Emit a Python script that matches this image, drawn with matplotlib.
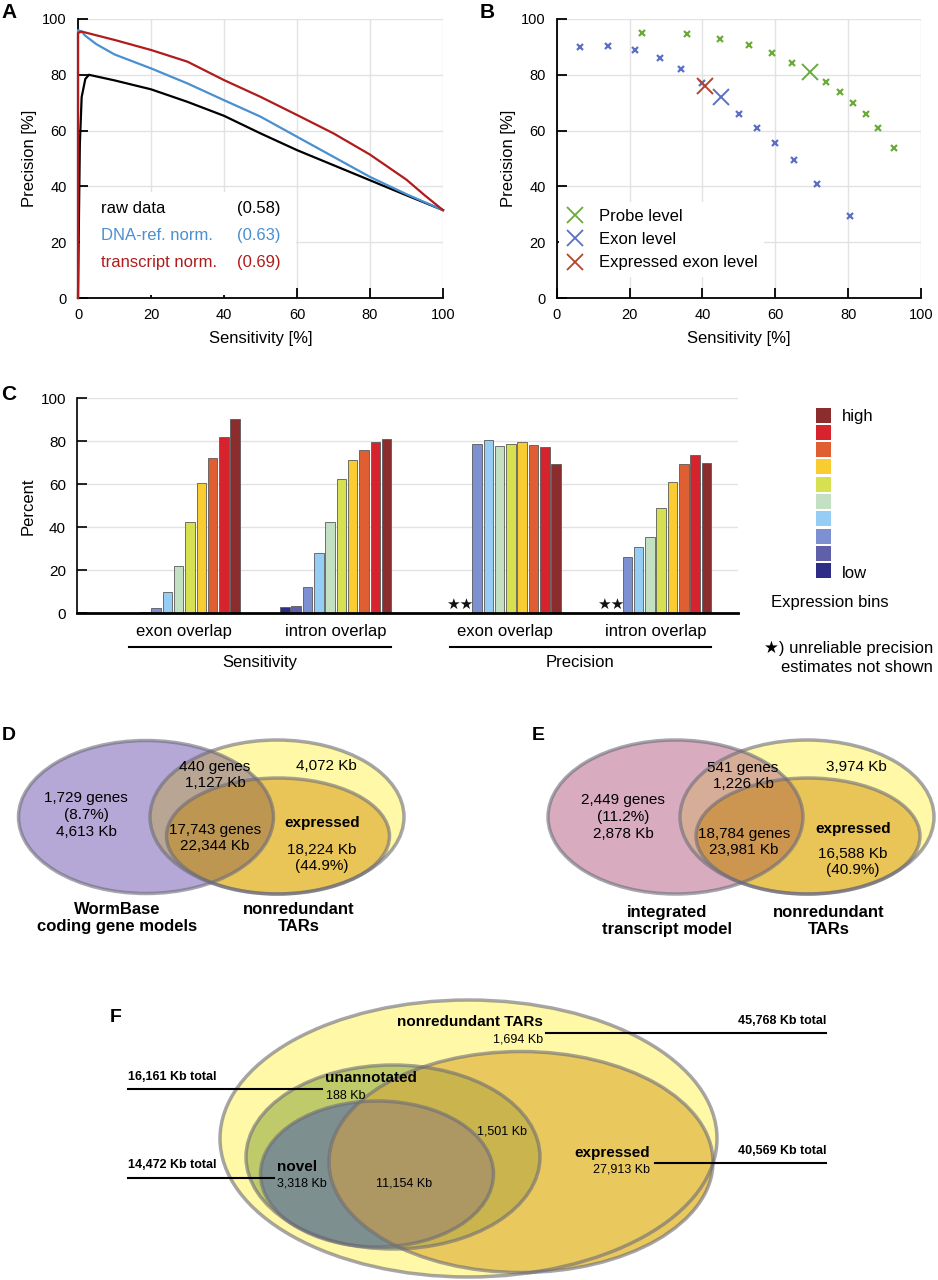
import matplotlib
matplotlib.use('Agg')
import matplotlib.pyplot as plt
from matplotlib.patches import Ellipse, Rectangle
from matplotlib.lines import Line2D
from matplotlib import font_manager

# fonts: Helvetica-like if available
names = {f.name for f in font_manager.fontManager.ttflist}
base = 'Liberation Sans' if 'Liberation Sans' in names else 'DejaVu Sans'
narrow = 'Liberation Sans Narrow' if 'Liberation Sans Narrow' in names else base
nscale = 1.2 if narrow != base else 1.0
plt.rcParams['font.family'] = [base, 'DejaVu Sans']

# ---- panel A: precision vs sensitivity curves
raw_x = [0, 0.5, 1, 2, 3, 10, 20, 30, 40, 50, 60, 70, 80, 90, 100]
raw_y = [0, 55, 72, 78.5, 80, 78, 74.8, 70.3, 65.3, 59, 53, 47.6, 42.2, 36.8, 31.5]
dna_x = [0, 0, 1, 2, 5, 10, 20, 30, 40, 50, 60, 70, 80, 90, 100]
dna_y = [0, 96, 95.5, 94, 91, 87.3, 82.3, 76.9, 70.9, 65, 57.8, 50.6, 43.4, 37.2, 31.5]
trans_x = [0, 0, 1, 10, 20, 30, 40, 50, 60, 70, 80, 90, 95, 100]
trans_y = [0, 95, 95.5, 92.5, 88.9, 84.7, 78.1, 72.1, 65.6, 59, 51.4, 42.4, 36.8, 31.5]
curve_names = ['raw data', 'DNA-ref. norm.', 'transcript norm.']
curve_auc = ['(0.58)', '(0.63)', '(0.69)']

# ---- panel B: scatter
probe_x = [23.3, 35.8, 44.9, 52.8, 59.0, 64.5, 73.9, 77.8, 81.3, 84.9, 88.3, 92.6]
probe_y = [95.1, 94.6, 92.9, 90.8, 87.7, 84.3, 77.4, 73.9, 70.0, 65.9, 60.8, 53.8]
probe_all = (69.6, 81.0)
exon_x = [6.5, 14.0, 21.4, 28.3, 34.1, 39.8, 50.0, 54.9, 59.8, 65.2, 71.4, 80.5]
exon_y = [89.8, 90.2, 88.8, 86.1, 82.1, 77.2, 66.1, 61.1, 55.6, 49.4, 40.8, 29.3]
exon_all = (45.1, 71.9)
expr_exon_all = (40.8, 76.0)

# ---- panel C: bars per expression bin (low -> high)
sens_exon = [0, 0.5, 2.5, 9.8, 22.2, 42.3, 60.5, 72.4, 82.2, 90.5]
sens_intron = [3.1, 3.6, 12.1, 28.2, 42.5, 62.5, 71.3, 76.1, 79.7, 80.9]
prec_exon = [None, None, 78.8, 80.6, 78.0, 78.6, 79.5, 78.1, 77.4, 69.6]
prec_intron = [None, None, 26.4, 30.7, 35.3, 48.8, 61.1, 69.6, 73.6, 69.8]
group_labels = ['exon overlap', 'intron overlap', 'exon overlap', 'intron overlap']
bin_colors = ['#2d2d87', '#5f5faa', '#7d91d2', '#96cdf5', '#c3e0c3',
              '#d7e050', '#f9cd32', '#e05f32', '#d7232d', '#8c2d2d']

# ---- panels D, E, F: venn labels
d_labels = ['1,729 genes\n(8.7%)\n4,613 Kb', '440 genes\n1,127 Kb', '4,072 Kb',
            '17,743 genes\n22,344 Kb', '18,224 Kb\n(44.9%)']
e_labels = ['2,449 genes\n(11.2%)\n2,878 Kb', '541 genes\n1,226 Kb', '3,974 Kb',
            '18,784 genes\n23,981 Kb', '16,588 Kb\n(40.9%)']
f_totals = ['45,768 Kb total', '16,161 Kb total', '14,472 Kb total', '40,569 Kb total']
f_only = ['1,694 Kb', '188 Kb', '3,318 Kb', '27,913 Kb', '11,154 Kb', '1,501 Kb']

W, H = 938, 1280
fig = plt.figure(figsize=(W / 100, H / 100), dpi=100)


def px_axes(l, t, r, b):
    return fig.add_axes([l / W, 1 - b / H, (r - l) / W, (b - t) / H])


def style_pr(ax):
    ax.set_xlim(0, 100)
    ax.set_ylim(0, 100)
    ax.set_xticks(range(0, 101, 20))
    ax.set_yticks(range(0, 101, 20))
    ax.grid(True, color='#e2e2e2', lw=1)
    ax.set_axisbelow(True)
    for s in ('top', 'right'):
        ax.spines[s].set_visible(False)
    for s in ('left', 'bottom'):
        ax.spines[s].set_linewidth(1.3)
    ax.tick_params(direction='in', length=7, width=1.3, labelsize=10.5)
    ax.tick_params(axis='y', pad=8)
    ax.tick_params(axis='x', pad=7)
    ax.set_xlabel('Sensitivity [%]', fontsize=12)
    ax.set_ylabel('Precision [%]', fontsize=12)
    ax.xaxis.set_label_coords(0.5, -0.12)
    ax.yaxis.set_label_coords(-0.113, 0.5)


# ---------------- A
axA = px_axes(78, 19, 443, 298)
style_pr(axA)
axA.add_patch(Rectangle((0.6, 1), 59, 37, facecolor='white', edgecolor='none', zorder=1))
cols_a = ['black', '#4a8fd0', '#b01c1c']
for xs, ys, c in zip([raw_x, dna_x, trans_x], [raw_y, dna_y, trans_y], cols_a):
    axA.plot(xs, ys, color=c, lw=1.6, zorder=3, clip_on=False)
for i, (n, a, c) in enumerate(zip(curve_names, curve_auc, cols_a)):
    y = 32 - i * 9.6
    axA.text(6.4, y, n, color=c, fontsize=12, va='center', zorder=4)
    axA.text(43.6, y, a, color=c, fontsize=12, va='center', zorder=4)

# ---------------- B
axB = px_axes(556.7, 19, 921, 298)
style_pr(axB)
c_probe, c_exon, c_expr = '#6aab3c', '#5b6fc6', '#b5442a'
axB.plot(probe_x, probe_y, 'x', color=c_probe, ms=4, mew=1.6, clip_on=False)
axB.plot(exon_x, exon_y, 'x', color=c_exon, ms=4, mew=1.6, clip_on=False)
axB.plot(*probe_all, 'x', color=c_probe, ms=11, mew=1.4)
axB.plot(*exon_all, 'x', color=c_exon, ms=11, mew=1.4)
axB.plot(*expr_exon_all, 'x', color=c_expr, ms=11, mew=1.4)
handles = [Line2D([], [], ls='none', marker='x', color=c, ms=11, mew=1.3)
           for c in (c_probe, c_exon, c_expr)]
leg = axB.legend(handles, ['Probe level', 'Exon level', 'Expressed exon level'],
                 loc='lower left', bbox_to_anchor=(0.005, 0.075), fontsize=12,
                 frameon=True, framealpha=1, facecolor='white', edgecolor='none',
                 handlelength=1.2, handletextpad=0.8, labelspacing=0.5,
                 borderpad=0.4, borderaxespad=0)

# ---------------- C
axC = px_axes(77, 398.3, 738, 613.3)
starts = [5, 18.4, 33.4, 46.7]
axC.set_xlim(0, 58.5)
axC.set_ylim(0, 100)
axC.set_yticks(range(0, 101, 20))
axC.set_xticks([])
axC.grid(True, axis='y', color='#e2e2e2', lw=1)
axC.set_axisbelow(True)
for s in ('top', 'right'):
    axC.spines[s].set_visible(False)
axC.spines['left'].set_linewidth(1.2)
axC.spines['bottom'].set_linewidth(2)
axC.tick_params(axis='y', direction='in', length=7, width=1.2, labelsize=11, pad=8)
axC.set_ylabel('Percent', fontsize=12)
axC.yaxis.set_label_coords(-0.062, 0.5)
for g, vals, lab in zip(starts, [sens_exon, sens_intron, prec_exon, prec_intron], group_labels):
    missing = []
    for i, v in enumerate(vals):
        if v is None:
            missing.append(g + i)
            continue
        axC.bar(g + i, v, width=0.84, color=bin_colors[i], edgecolor='#5a5a5a', linewidth=0.6)
    if missing:
        axC.text(sum(missing) / len(missing), 0.5, '\u2605' * len(missing), ha='center',
                 va='bottom', fontsize=11, family=['DejaVu Sans'], color='#111111')
    axC.text(g + 4.5, -8.6, lab, ha='center', va='center', fontsize=12, clip_on=False)
for g0, g1, lab in [(starts[0], starts[1], 'Sensitivity'), (starts[2], starts[3], 'Precision')]:
    axC.plot([g0 - 0.4, g1 + 9.4], [-15.5, -15.5], color='black', lw=1.5, clip_on=False)
    axC.text((g0 + g1 + 9) / 2, -23.1, lab, ha='center', va='center', fontsize=12, clip_on=False)

# ---------------- overlay in pixel coordinates
ov = fig.add_axes([0, 0, 1, 1])
ov.set_xlim(0, W)
ov.set_ylim(H, 0)
ov.axis('off')

for lab, x, y in [('A', 9, 12), ('B', 487, 12), ('C', 9, 395), ('D', 9, 735),
                  ('E', 538, 735), ('F', 116, 1017)]:
    ov.text(x, y, lab, ha='center', va='center', fontsize=15 if lab in 'ABC' else 14,
            weight='bold')

# legend for C
for k, c in enumerate(bin_colors[::-1]):
    ov.add_patch(Rectangle((816, 407.5 + k * 17.3), 15, 15, facecolor=c, edgecolor='none'))
ov.text(842, 416, 'high', fontsize=12, va='center')
ov.text(842, 573.5, 'low', fontsize=12, va='center')
ov.text(830, 603, 'Expression bins', fontsize=12, ha='center', va='center')
ov.text(933, 648, '\u2605) unreliable precision', fontsize=12, ha='right', va='center')
ov.text(933, 667, 'estimates not shown', fontsize=12, ha='right', va='center')

edge = (0.42, 0.42, 0.47, 0.6)


def ell(g, **kw):
    return Ellipse((g[0], g[1]), g[2], g[3], **kw)


def fill_clipped(shape, clip, color):
    p = ell(shape, facecolor=color, edgecolor='none')
    ov.add_patch(p)
    p.set_clip_path(ell(clip, transform=ov.transData))


def venn_de(left, tars, expr, c_left, c_lt, c_le):
    ov.add_patch(ell(tars, facecolor='#fff8a6', edgecolor='none'))
    ov.add_patch(ell(expr, facecolor='#e9c558', edgecolor='none'))
    ov.add_patch(ell(left, facecolor=c_left, edgecolor='none'))
    fill_clipped(left, tars, c_lt)
    fill_clipped(left, expr, c_le)
    for g in (left, tars, expr):
        ov.add_patch(ell(g, facecolor='none', edgecolor=edge, lw=2.5))


# ---------------- D
venn_de((146, 817, 255, 153), (277, 817, 254, 154), (278, 836, 223, 116),
        '#b6a8d6', '#b9a593', '#bd9652')
fs = 11
ov.text(86, 815, d_labels[0], ha='center', va='center', fontsize=fs, linespacing=1.25)
ov.text(215, 775, d_labels[1], ha='center', va='center', fontsize=fs, linespacing=1.25)
ov.text(326, 766, d_labels[2], ha='center', va='center', fontsize=fs)
ov.text(215, 838, d_labels[3], ha='center', va='center', fontsize=fs, linespacing=1.25)
ov.text(322, 823, 'expressed', ha='center', va='center', fontsize=fs, weight='bold')
ov.text(322, 858, d_labels[4], ha='center', va='center', fontsize=fs, linespacing=1.25)
ov.text(117, 918, 'WormBase\ncoding gene models', ha='center', va='center', fontsize=12,
        weight='bold', linespacing=1.2)
ov.text(299, 918, 'nonredundant\nTARs', ha='center', va='center', fontsize=12,
        weight='bold', linespacing=1.2)

# ---------------- E
venn_de((675.5, 817, 255, 154), (807, 817, 254, 154), (808, 836, 224, 116),
        '#d8acbe', '#d6ae98', '#cd9650')
ov.text(623, 817, e_labels[0], ha='center', va='center', fontsize=fs, linespacing=1.25)
ov.text(743, 776, e_labels[1], ha='center', va='center', fontsize=fs, linespacing=1.25)
ov.text(856, 767, e_labels[2], ha='center', va='center', fontsize=fs)
ov.text(744, 842, e_labels[3], ha='center', va='center', fontsize=fs, linespacing=1.25)
ov.text(853, 829, 'expressed', ha='center', va='center', fontsize=fs, weight='bold')
ov.text(853, 862, e_labels[4], ha='center', va='center', fontsize=fs, linespacing=1.25)
ov.text(667, 921, 'integrated\ntranscript model', ha='center', va='center', fontsize=12,
        weight='bold', linespacing=1.2)
ov.text(829, 921, 'nonredundant\nTARs', ha='center', va='center', fontsize=12,
        weight='bold', linespacing=1.2)

# ---------------- F
outer = (468.5, 1138.5, 497, 277)
f_expr = (521, 1162, 384, 221)
unann = (393, 1157, 294, 184)
novel = (377, 1174, 233, 146)
ov.add_patch(ell(outer, facecolor='#fff8a6', edgecolor='none'))
ov.add_patch(ell(unann, facecolor='#bfca6a', edgecolor='none'))
ov.add_patch(ell(novel, facecolor='#7d8f8f', edgecolor='none'))
ov.add_patch(ell(f_expr, facecolor='#e9c85e', edgecolor='none'))
fill_clipped(f_expr, unann, '#c9b44e')
fill_clipped(f_expr, novel, '#ad9762')
for g in (outer, unann, novel, f_expr):
    ov.add_patch(ell(g, facecolor='none', edgecolor=edge, lw=2.5))

ff = [narrow, 'DejaVu Sans']
big, small = 11 * nscale, 9 * nscale
ov.text(470, 1022, 'nonredundant TARs', ha='center', va='center', fontsize=big,
        weight='bold', family=ff)
ov.text(543, 1040, f_only[0], ha='right', va='center', fontsize=small, family=ff)
ov.plot([546, 826], [1032.7, 1032.7], color='black', lw=1.5)
ov.text(826, 1020.5, f_totals[0], ha='right', va='center', fontsize=small, weight='bold', family=ff)

ov.text(128, 1077, f_totals[1], ha='left', va='center', fontsize=small, weight='bold', family=ff)
ov.plot([128, 322], [1089, 1089], color='black', lw=1.5)
ov.text(325, 1078, 'unannotated', ha='left', va='center', fontsize=big, weight='bold', family=ff)
ov.text(326, 1096, f_only[1], ha='left', va='center', fontsize=small, family=ff)

ov.text(128, 1165.5, f_totals[2], ha='left', va='center', fontsize=small, weight='bold', family=ff)
ov.plot([128, 274], [1177.7, 1177.7], color='black', lw=1.5)
ov.text(277, 1167, 'novel', ha='left', va='center', fontsize=big, weight='bold', family=ff)
ov.text(277, 1184, f_only[2], ha='left', va='center', fontsize=small, family=ff)

ov.text(650, 1152.7, 'expressed', ha='right', va='center', fontsize=big, weight='bold', family=ff)
ov.text(650, 1170, f_only[3], ha='right', va='center', fontsize=small, family=ff)
ov.plot([654.5, 826], [1163, 1163], color='black', lw=1.5)
ov.text(826, 1150.5, f_totals[3], ha='right', va='center', fontsize=small, weight='bold', family=ff)

ov.text(404, 1184, f_only[4], ha='center', va='center', fontsize=small, family=ff)
ov.text(502, 1131, f_only[5], ha='center', va='center', fontsize=small, family=ff)

fig.savefig('out.png', dpi=100)
